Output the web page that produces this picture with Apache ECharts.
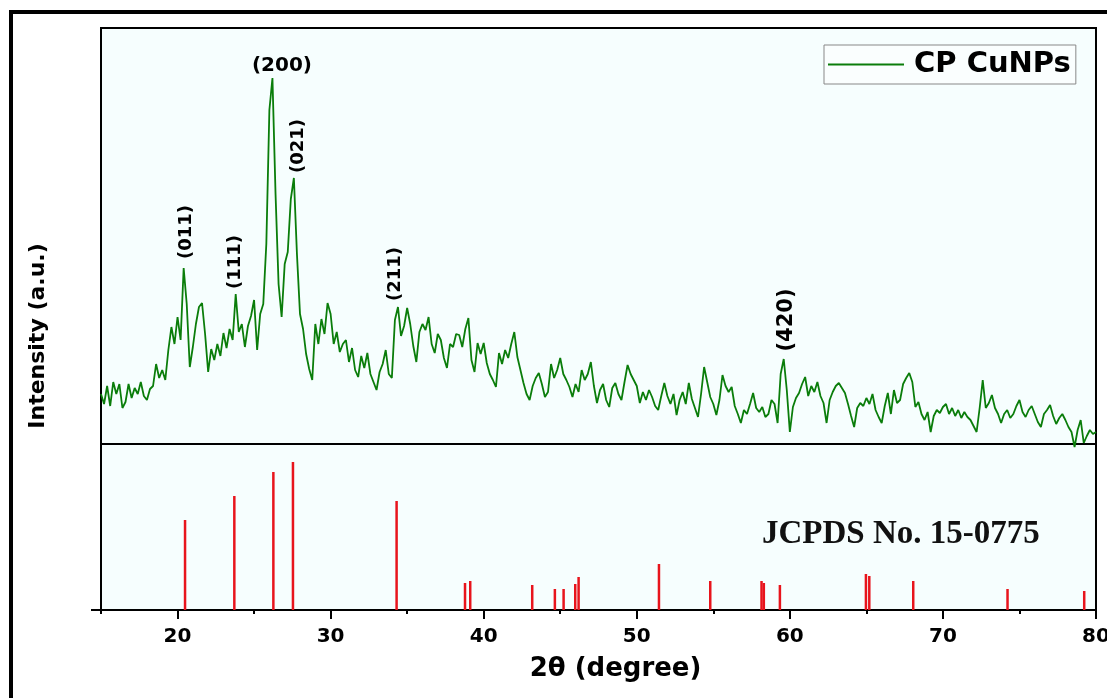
<!DOCTYPE html>
<html>
<head>
<meta charset="utf-8">
<script src="https://cdn.jsdelivr.net/npm/echarts@6/dist/echarts.min.js"></script>
<style>
html, body { margin: 0; padding: 0; background: #fff; }
#xrd { width: 1107px; height: 698px; }
</style>
</head>
<body>
<div id="xrd"></div>
<script>
// scan: first angle and step (2θ, degree)
const scanStart = 15.0;
const scanStep = 0.2;

const cpIntensity = [
    50, 40, 58, 38, 62, 50, 60, 36, 42, 60,       // 15 - 16.8
    46, 56, 50, 62, 48, 44, 55, 58, 80, 66,       // 17
    74, 64, 94, 117, 100, 127, 104, 176, 140, 77, // 19
    97, 120, 137, 141, 110, 72, 95, 84, 100, 88,  // 21
    111, 96, 115, 104, 150, 112, 120, 97, 118, 128, // 23
    144, 94, 130, 140, 200, 334, 366, 251, 160, 127, // 25
    180, 192, 245, 266, 190, 130, 115, 90, 75, 64,   // 27
    120, 100, 125, 110, 141, 130, 100, 112, 92, 100, // 29
    104, 82, 96, 74, 67, 88, 76, 91, 70, 62,      // 31
    54, 72, 80, 94, 70, 66, 124, 137, 108, 118,   // 33
    136, 120, 98, 82, 112, 120, 114, 127, 100, 91, // 35
    110, 104, 86, 76, 100, 97, 110, 109, 97, 115, // 37
    126, 84, 72, 101, 90, 101, 81, 70, 64, 57,    // 39
    91, 80, 94, 86, 100, 112, 87, 74, 61, 50,     // 41
    44, 58, 66, 71, 60, 47, 52, 80, 66, 74,       // 43
    86, 70, 64, 57, 47, 60, 52, 74, 64, 70,       // 45
    82, 58, 41, 54, 60, 44, 37, 56, 61, 50,       // 47
    44, 62, 79, 70, 64, 58, 41, 52, 44, 54,       // 49
    47, 38, 34, 48, 61, 48, 40, 50, 29, 44,       // 51
    52, 40, 61, 45, 36, 27, 50, 77, 62, 47,       // 53
    40, 29, 44, 69, 58, 52, 57, 38, 30, 21,       // 55
    34, 30, 40, 51, 36, 32, 37, 27, 30, 44,       // 57
    40, 21, 70, 85, 54, 12, 37, 46, 51, 60,       // 59
    67, 48, 58, 52, 62, 48, 41, 21, 44, 52,       // 61
    58, 61, 56, 51, 40, 28, 17, 36, 41, 38,       // 63
    46, 40, 50, 34, 27, 21, 38, 51, 30, 54,       // 65
    41, 44, 60, 66, 71, 62, 37, 42, 30, 24,       // 67
    32, 12, 28, 34, 31, 37, 40, 30, 36, 28,       // 69
    34, 26, 32, 27, 24, 18, 12, 36, 64, 36,       // 71
    41, 49, 36, 30, 21, 30, 34, 26, 30, 38,       // 73
    44, 32, 27, 34, 38, 30, 22, 17, 30, 34,       // 75
    39, 28, 20, 26, 30, 24, 17, 12, -3, 14,       // 77
    24, 1, 8, 14, 10, 12                          // 79 - 80
];

// JCPDS No. 15-0775 reference lines
const refAngle = [20.49, 23.71, 26.26, 27.54, 34.31, 38.78, 39.12, 43.17, 44.65, 45.22,
    45.98, 46.2, 51.45, 54.8, 58.15, 58.3, 59.35, 64.97, 65.19, 68.06, 74.22, 79.23];
const refHeight = [90, 114, 138, 148, 109, 27, 29, 25, 21, 21,
    26, 33, 46, 29, 29, 27, 25, 36, 34, 29, 21, 19];

// hkl labels, anchored at (2θ, intensity)
const peakHkl = ['(200)', '(021)', '(011)', '(111)', '(211)', '(420)'];
const peakAngle = [26.82, 27.87, 20.55, 23.75, 34.2, 59.8];
const peakLevel = [378, 298, 212, 182, 170, 124];

const majorTicks = [20, 30, 40, 50, 60, 70, 80];
const minorTicks = [15, 25, 35, 45, 55, 65, 75];

const FONT = 'DejaVu Sans';

let chartDom = document.getElementById('xrd');
let myChart = echarts.init(chartDom, null, { renderer: 'canvas' });

let curve = cpIntensity.map((v, i) => [(scanStart * 10 + i * scanStep * 10) / 10, v]);
let sticks = refAngle.map((a, i) => [a, refHeight[i]]);
let labels = peakHkl.map((h, i) => ({
    name: h,
    value: [peakAngle[i], peakLevel[i]],
    label: {
        rotate: h === '(200)' ? 0 : 90,
        fontSize: h === '(200)' ? 20 : (h === '(420)' ? 21 : 18),
        color: '#000'
    }
}));

let option = {
    animation: false,
    backgroundColor: '#fff',
    title: {
        text: 'JCPDS No. 15-0775',
        left: 762,
        top: 518,
        padding: 0,
        textStyle: {
            fontFamily: 'Liberation Serif',
            fontWeight: 'bold',
            fontSize: 33,
            color: '#111'
        }
    },
    legend: {
        data: [{ name: 'CP CuNPs', icon: 'rect' }],
        left: 824,
        top: 45,
        padding: [5, 5, 5, 4],
        itemWidth: 76,
        itemHeight: 2,
        borderColor: '#888',
        borderWidth: 1,
        backgroundColor: '#fafefe',
        textStyle: {
            fontFamily: FONT,
            fontWeight: 'bold',
            fontSize: 29,
            color: '#000',
            padding: [0, 0, 0, 5]
        }
    },
    grid: [
        { left: 101, top: 28, width: 995, height: 416, show: true, backgroundColor: '#f6fefe', borderColor: '#000', borderWidth: 2, outerBoundsMode: 'none' },
        { left: 101, top: 444, width: 995, height: 166, show: true, backgroundColor: '#f6fefe', borderColor: '#000', borderWidth: 2, outerBoundsMode: 'none' }
    ],
    xAxis: [
        { gridIndex: 0, type: 'value', min: 15, max: 80, show: false },
        {
            gridIndex: 1, type: 'value', min: 15, max: 80, position: 'bottom',
            axisLine: { show: true, lineStyle: { color: '#000', width: 2 } },
            axisTick: { show: true, customValues: minorTicks, length: 4, lineStyle: { color: '#000', width: 2 } },
            axisLabel: {
                customValues: majorTicks,
                margin: 17,
                color: '#000',
                fontFamily: FONT,
                fontWeight: 'bold',
                fontSize: 20
            },
            splitLine: { show: false },
            name: '2θ (degree)',
            nameLocation: 'middle',
            nameGap: 46,
            nameTextStyle: {
                fontFamily: FONT,
                fontWeight: 'bold',
                fontSize: 26,
                color: '#000',
                padding: [0, 0, 0, 34]
            }
        },
        {
            gridIndex: 1, type: 'value', min: 15, max: 80, position: 'bottom',
            axisLine: { show: true, lineStyle: { color: '#000', width: 2 } },
            axisTick: { show: true, customValues: majorTicks, length: 9, lineStyle: { color: '#000', width: 2 } },
            axisLabel: { show: false },
            splitLine: { show: false }
        }
    ],
    yAxis: [
        { gridIndex: 0, type: 'value', min: 0, max: 416, show: false },
        {
            gridIndex: 1, type: 'value', min: 0, max: 166,
            axisLine: { show: true, lineStyle: { color: '#000', width: 2 } },
            axisTick: { show: true, customValues: [0], length: 10, lineStyle: { color: '#000', width: 2 } },
            axisLabel: { show: false },
            splitLine: { show: false }
        }
    ],
    series: [
        {
            name: 'CP CuNPs',
            type: 'line',
            xAxisIndex: 0,
            yAxisIndex: 0,
            data: curve,
            symbol: 'none',
            clip: false,
            color: '#0a7d0a',
            lineStyle: { color: '#0a7d0a', width: 1.8 },
            z: 5
        },
        {
            name: 'JCPDS',
            type: 'bar',
            xAxisIndex: 1,
            yAxisIndex: 1,
            data: sticks,
            barWidth: 2.5,
            itemStyle: { color: '#e8141c' }
        },
        {
            name: 'hkl',
            type: 'scatter',
            xAxisIndex: 0,
            yAxisIndex: 0,
            symbolSize: 1,
            itemStyle: { color: 'transparent' },
            data: labels,
            label: {
                show: true,
                position: 'inside',
                formatter: '{b}',
                color: '#000',
                opacity: 1,
                fontFamily: FONT,
                fontWeight: 'bold'
            },
            z: 6
        }
    ],
    graphic: [
        {
            type: 'rect',
            silent: true,
            shape: { x: 11, y: 12, width: 1200, height: 800 },
            style: { fill: 'none', stroke: '#000', lineWidth: 4 }
        },
        {
            type: 'text',
            silent: true,
            x: 38,
            y: 336,
            rotation: Math.PI / 2,
            style: {
                text: 'Intensity (a.u.)',
                x: 0,
                y: 0,
                align: 'center',
                verticalAlign: 'middle',
                textAlign: 'center',
                textVerticalAlign: 'middle',
                font: 'bold 22px "DejaVu Sans"',
                fill: '#000'
            }
        }
    ]
};

option && myChart.setOption(option);
</script>
</body>
</html>
